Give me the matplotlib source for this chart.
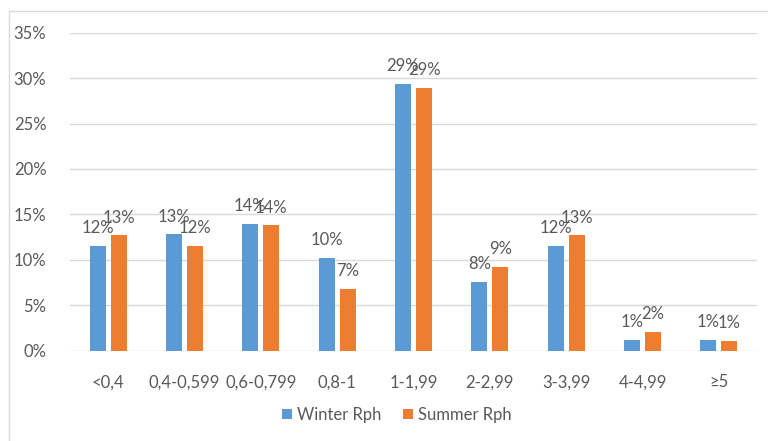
import matplotlib.pyplot as plt
import numpy as np
from matplotlib.patches import Rectangle

categories = ['<0,4', '0,4-0,599', '0,6-0,799', '0,8-1', '1-1,99', '2-2,99', '3-3,99', '4-4,99', '≥5']
winter = [11.5, 12.8, 14.0, 10.2, 29.4, 7.6, 11.5, 1.2, 1.2]
summer = [12.7, 11.5, 13.8, 6.8, 28.9, 9.2, 12.7, 2.1, 1.1]
yticks = [0, 5, 10, 15, 20, 25, 30, 35]

blue = '#5B9BD5'
orange = '#ED7D31'
grey = '#595959'

plt.rcParams['font.family'] = ['Lato', 'DejaVu Sans']

fig = plt.figure(figsize=(7.68, 4.41), dpi=100)
fig.patches.append(Rectangle((9 / 768, -0.1), 1.1, 1.1 - 11 / 441, transform=fig.transFigure,
                             fill=False, edgecolor='#D9D9D9', linewidth=1))
ax = fig.add_axes([70 / 768, 90.3 / 441, 687 / 768, 318 / 441])

x = np.arange(len(categories))
w = 0.21
off = 0.1376
b1 = ax.bar(x - off, winter, w, color=blue, label='Winter Rph', zorder=3)
b2 = ax.bar(x + off, summer, w, color=orange, label='Summer Rph', zorder=3)

# data labels, rounded like Excel does
for bars, vals in ((b1, winter), (b2, summer)):
    for bar, v in zip(bars, vals):
        ax.text(bar.get_x() + bar.get_width() / 2, v + 1.95, f'{round(v)}%',
                ha='center', va='center', fontsize=12, color=grey, zorder=4)

ax.set_xlim(-0.5, len(categories) - 0.5)
ax.set_ylim(0, 35)
ax.set_yticks(yticks)
ax.set_yticklabels([f'{t}%' for t in yticks])
ax.set_xticks(x)
ax.set_xticklabels(categories)
ax.tick_params(axis='y', length=0, pad=17, labelsize=12, labelcolor=grey)
ax.tick_params(axis='x', length=0, pad=17, labelsize=12, labelcolor=grey)
ax.yaxis.grid(True, color='#D9D9D9', linewidth=1, zorder=0)
for s in ax.spines.values():
    s.set_visible(False)

fig.legend(handles=[b1, b2], loc='center', bbox_to_anchor=(397 / 768, 1 - 415 / 441), ncol=2,
           frameon=False, fontsize=12, labelcolor=grey, handlelength=0.6, handleheight=0.6,
           handletextpad=0.3, columnspacing=1.3)

fig.savefig('out.png', dpi=100)
